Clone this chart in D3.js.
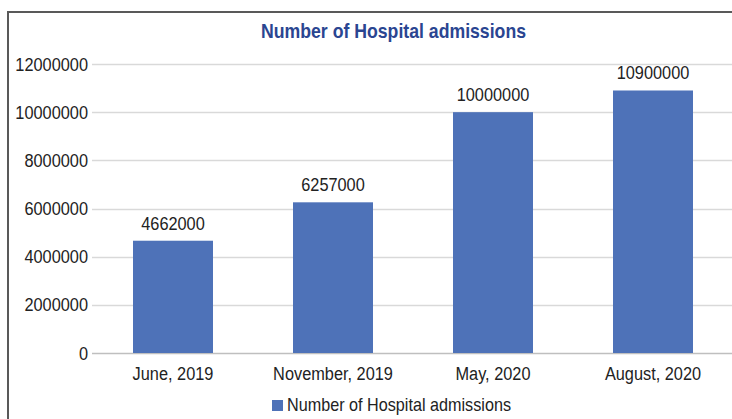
<!DOCTYPE html>
<html>
<head>
<meta charset="utf-8">
<script src="https://cdn.jsdelivr.net/npm/d3@7"></script>
<style>
  body { margin: 0; background: #fff; }
  text { font-family: "Liberation Sans", Arial, sans-serif; }
</style>
</head>
<body>
<div id="chart"></div>
<script>
var categories = ["June, 2019", "November, 2019", "May, 2020", "August, 2020"];
var admissions = [4662000, 6257000, 10000000, 10900000];
var yTicks = [0, 2000000, 4000000, 6000000, 8000000, 10000000, 12000000];
var seriesName = "Number of Hospital admissions";

var width = 732,
  height = 419;
var narrow = "scale(0.86,1)";

var svg = d3.select("#chart")
  .append("svg")
  .attr("width", width)
  .attr("height", height);

// chart frame (cropped on right and bottom)
svg.append("path")
  .attr("d", "M8," + height + "V12H" + width)
  .attr("fill", "none")
  .attr("stroke", "#595959")
  .attr("stroke-width", 2);

var x = d3.scaleBand()
  .domain(categories)
  .range([93, 733])
  .paddingInner(0.5)
  .paddingOuter(0.25);

var y = d3.scaleLinear()
  .domain([0, 12000000])
  .range([353, 64]);

// gridlines
svg.append("g")
  .selectAll("line")
  .data(yTicks)
  .enter().append("line")
  .attr("x1", 92)
  .attr("x2", width)
  .attr("y1", function(d) { return Math.round(y(d)) + 0.5; })
  .attr("y2", function(d) { return Math.round(y(d)) + 0.5; })
  .attr("stroke", function(d) { return d === 0 ? "#bfbfbf" : "#d9d9d9"; })
  .attr("stroke-width", 1.5);

// y axis labels
var yAxis = d3.axisLeft(y)
  .tickValues(yTicks)
  .tickFormat(d3.format("d"))
  .tickSize(0)
  .tickPadding(0);

var gy = svg.append("g")
  .attr("transform", "translate(88,0)")
  .call(yAxis);
gy.select(".domain").remove();
gy.selectAll("text")
  .attr("font-size", 19)
  .attr("fill", "#222")
  .attr("transform", narrow)
  .style("font-family", null);

// bars
svg.selectAll(".bar")
  .data(admissions)
  .enter().append("rect")
  .attr("class", "bar")
  .attr("x", function(d, i) { return x(categories[i]); })
  .attr("width", x.bandwidth())
  .attr("y", function(d) { return y(d); })
  .attr("height", function(d) { return y(0) - y(d); })
  .attr("fill", "#4e72b8");

// value labels
svg.selectAll(".val")
  .data(admissions)
  .enter().append("text")
  .attr("class", "val")
  .attr("transform", function(d, i) {
    return "translate(" + (x(categories[i]) + x.bandwidth() / 2) + "," + (y(d) - 11) + ")" + narrow;
  })
  .attr("text-anchor", "middle")
  .attr("font-size", 19)
  .attr("fill", "#222")
  .text(function(d) { return d; });

// x axis labels
var xAxis = d3.axisBottom(x).tickSize(0).tickPadding(0);
var gx = svg.append("g")
  .attr("transform", "translate(0,366)")
  .call(xAxis);
gx.select(".domain").remove();
gx.selectAll("text")
  .attr("font-size", 19)
  .attr("fill", "#222")
  .attr("transform", narrow)
  .style("font-family", null);

// title
svg.append("text")
  .attr("x", 261)
  .attr("y", 38)
  .attr("font-size", 21)
  .attr("font-weight", "bold")
  .attr("fill", "#2a4591")
  .attr("textLength", 265)
  .attr("lengthAdjust", "spacingAndGlyphs")
  .text(seriesName);

// legend
var legend = svg.append("g").attr("transform", "translate(272,400)");
legend.append("rect")
  .attr("width", 11)
  .attr("height", 11)
  .attr("fill", "#4e72b8");
legend.append("text")
  .attr("x", 15)
  .attr("y", 11)
  .attr("font-size", 19)
  .attr("fill", "#222")
  .attr("textLength", 224)
  .attr("lengthAdjust", "spacingAndGlyphs")
  .text(seriesName);
</script>
</body>
</html>
